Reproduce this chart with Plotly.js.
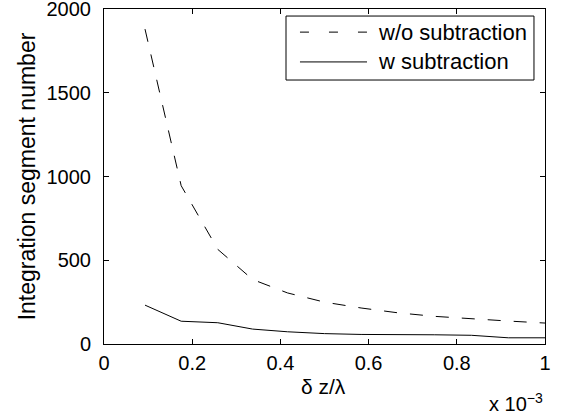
<!DOCTYPE html>
<html>
<head>
<meta charset="utf-8">
<script src="https://cdn.plot.ly/plotly-3.0.1.min.js"></script>
<style>html,body{margin:0;padding:0;background:#fff;}#chart{width:562px;height:420px;}</style>
</head>
<body>
<div id="chart"></div>
<script>
// δz/λ values (in units of 1e-3)
var dz = [0.093, 0.175, 0.258, 0.337, 0.416, 0.5, 0.583, 0.667, 0.75, 0.833, 0.917, 1.0];
var withoutSub = [1880, 945, 565, 385, 305, 250, 215, 186, 165, 150, 137, 125];
var withSub = [232, 136, 127, 89, 73, 62, 57, 57, 55, 52, 37, 37];
var seriesNames = ["w/o subtraction", "w subtraction"];
var xTicks = [0, 0.2, 0.4, 0.6, 0.8, 1];
var yTicks = [0, 500, 1000, 1500, 2000];

var FONT = "Liberation Sans, Arial, Helvetica, sans-serif";
var DASH = "13px,13px";

var traces = [
  {x: dz, y: withoutSub, name: seriesNames[0], mode: "lines", type: "scatter",
   line: {color: "#000", width: 1, dash: DASH}},
  {x: dz, y: withSub, name: seriesNames[1], mode: "lines", type: "scatter",
   line: {color: "#000", width: 1}}
];

var axisCommon = {
  showline: true, linecolor: "#000", linewidth: 1, mirror: "ticks",
  ticks: "inside", ticklen: 5, tickcolor: "#000", tickwidth: 1,
  showgrid: false, zeroline: false, ticklabeloverflow: "allow",
  tickfont: {family: FONT, size: 20, color: "#000"}
};

// custom MATLAB-style legend (box, samples, labels) in paper coordinates
var lg = {x0: 0.4127, x1: 0.975, y0: 0.788, y1: 0.979, sx0: 0.4444, sx1: 0.5964, tx: 0.6168, rows: [0.931, 0.842]};
var dashes = ["9px,20px", "solid"];
var shapes = [{type: "rect", xref: "paper", yref: "paper", x0: lg.x0, x1: lg.x1, y0: lg.y0, y1: lg.y1,
  line: {color: "#000", width: 1}, fillcolor: "#fff", layer: "above"}];
var annotations = [];
seriesNames.forEach(function (n, i) {
  shapes.push({type: "line", xref: "paper", yref: "paper", x0: lg.sx0, x1: lg.sx1, y0: lg.rows[i], y1: lg.rows[i],
    line: {color: "#000", width: 1, dash: dashes[i]}, layer: "above"});
  annotations.push({xref: "paper", yref: "paper", x: lg.tx, y: lg.rows[i], xanchor: "left", yanchor: "middle",
    text: n, showarrow: false, font: {family: FONT, size: 22, color: "#000"}});
});
// x-axis title and exponent label
annotations.push({
  xref: "paper", yref: "paper", x: 0.497, y: -0.128, xanchor: "center", yanchor: "middle",
  text: "δ z/λ", showarrow: false, font: {family: FONT, size: 21, color: "#000"}
});
annotations.push({
  xref: "paper", yref: "paper", x: 1.0, y: -0.13, xanchor: "right", yanchor: "top",
  text: "x 10<sup>−3</sup>", showarrow: false,
  font: {family: FONT, size: 20, color: "#000"}
});

var layout = {
  width: 562, height: 420,
  margin: {l: 104, r: 17, t: 9, b: 76},
  paper_bgcolor: "#fff", plot_bgcolor: "#fff",
  font: {family: FONT, color: "#000"},
  showlegend: false,
  xaxis: Object.assign({}, axisCommon, {
    range: [0, 1], tickvals: xTicks, ticktext: xTicks.map(String), ticklabelstandoff: 1
  }),
  yaxis: Object.assign({}, axisCommon, {
    range: [0, 2000], tickvals: yTicks, ticktext: yTicks.map(String), ticklabelstandoff: 8,
    title: {text: "Integration segment number", font: {family: FONT, size: 23, color: "#000"}, standoff: 4}
  }),
  shapes: shapes,
  annotations: annotations
};

Plotly.newPlot("chart", traces, layout, {displayModeBar: false, staticPlot: true});
</script>
</body>
</html>
